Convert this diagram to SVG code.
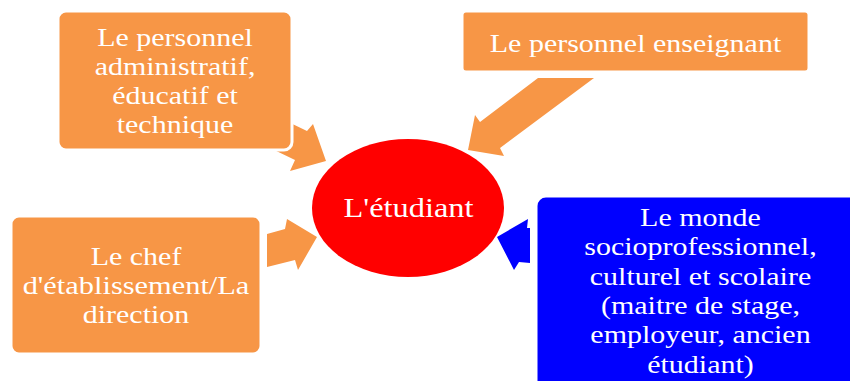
<svg xmlns="http://www.w3.org/2000/svg" width="850" height="381" viewBox="0 0 850 381">
  <style>
    .box { fill: #F79646; stroke: #FFFFFF; stroke-width: 3; }
    .blue { fill: #0000FF; stroke: #FFFFFF; stroke-width: 3; }
    .arrow { fill: #F79646; }
    .arrow-blue { fill: #0000FF; }
    .t { font-family: "Liberation Serif", "Times New Roman", serif; font-size: 26px; fill: #FFFFFF; text-anchor: middle; }
  </style>
  <rect width="850" height="381" fill="#FFFFFF"/>
  <g id="connectors">
    <polygon class="arrow" points="268,147 280,118 307,131 313,124 326,161 290,171 295,160"/>
    <polygon class="arrow" points="538,78 594,78 500,148 504,156 468,150 475,115 480,122"/>
    <polygon class="arrow" points="267,234 285,229 287,219 317,237 298,270 295,260 267,267"/>
    <polygon class="arrow-blue" points="497,237 528,219 527,228 530,228 530,263 519,262 514,270"/>
  </g>
  <g id="node-admin">
    <rect class="box" x="58" y="11" width="234" height="139" rx="8"/>
    <text class="t" transform="translate(175,45.5) scale(1.154,1)">Le personnel</text>
    <text class="t" transform="translate(175,74.5) scale(1.154,1)">administratif,</text>
    <text class="t" transform="translate(175,103.5) scale(1.154,1)">éducatif et</text>
    <text class="t" transform="translate(175,132.5) scale(1.154,1)">technique</text>
  </g>
  <g id="node-enseignant">
    <rect class="box" x="462" y="11" width="347" height="61" rx="4"/>
    <text class="t" transform="translate(635.5,52) scale(1.154,1)">Le personnel enseignant</text>
  </g>
  <g id="node-direction">
    <rect class="box" x="11" y="216" width="250" height="138" rx="8"/>
    <text class="t" transform="translate(136,265) scale(1.154,1)">Le chef</text>
    <text class="t" transform="translate(136,294.3) scale(1.17,1)">d'établissement/La</text>
    <text class="t" transform="translate(136,323.3) scale(1.154,1)">direction</text>
  </g>
  <g id="node-monde">
    <rect class="blue" x="536" y="196" width="330" height="200" rx="10"/>
    <text class="t" transform="translate(700.5,226) scale(1.154,1)">Le monde</text>
    <text class="t" transform="translate(700.5,255.3) scale(1.154,1)">socioprofessionnel,</text>
    <text class="t" transform="translate(700.5,284.6) scale(1.154,1)">culturel et scolaire</text>
    <text class="t" transform="translate(700.5,313.9) scale(1.154,1)">(maitre de stage,</text>
    <text class="t" transform="translate(700.5,343.2) scale(1.154,1)">employeur, ancien</text>
    <text class="t" transform="translate(700.5,372.5) scale(1.154,1)">étudiant)</text>
  </g>
  <g id="node-etudiant">
    <ellipse cx="408" cy="208" rx="96" ry="69" fill="#FF0000"/>
    <text class="t" transform="translate(408.5,216.7) scale(1.2,1)" style="font-size:27px">L'étudiant</text>
  </g>
</svg>
